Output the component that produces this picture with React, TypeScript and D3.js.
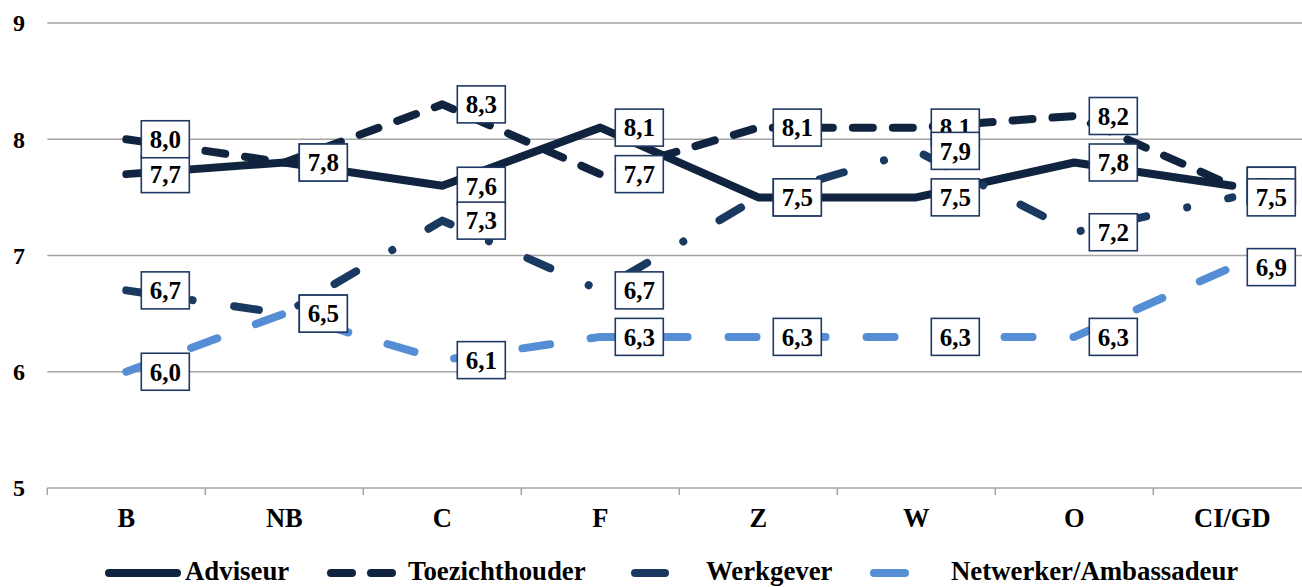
import React from "react";
import * as d3 from "d3";

const categories = ["B", "NB", "C", "F", "Z", "W", "O", "CI/GD"];
const adviseur = [7.7, 7.8, 7.6, 8.1, 7.5, 7.5, 7.8, 7.6];
const toezichthouder = [8.0, 7.8, 8.3, 7.7, 8.1, 8.1, 8.2, 7.6];
const werkgever = [6.7, 6.5, 7.3, 6.7, 7.5, 7.9, 7.2, 7.5];
const netwerker = [6.0, 6.5, 6.1, 6.3, 6.3, 6.3, 6.3, 6.9];
const yTicks = [5, 6, 7, 8, 9];
const seriesNames = ["Adviseur", "Toezichthouder", "Werkgever", "Netwerker/Ambassadeur"];

const W = 1302;
const H = 587;
const FONT = "'Liberation Serif', 'Times New Roman', serif";

const series = [
  { name: seriesNames[0], values: adviseur, color: "#10243f", dash: "none", legend: { x1: 109, x2: 177, dash: "none", textX: 185 } },
  { name: seriesNames[1], values: toezichthouder, color: "#10243f", dash: "20 20", legend: { x1: 331, x2: 392, dash: "21 19", textX: 408 } },
  { name: seriesNames[2], values: werkgever, color: "#1a3960", dash: "25 42 0.01 42", legend: { x1: 635, x2: 665, dash: "none", textX: 706 } },
  { name: seriesNames[3], values: netwerker, color: "#558ed5", dash: "28 41", legend: { x1: 874, x2: 905, dash: "none", textX: 951 } },
];

export default function App() {
  const x = d3.scaleBand<string>().domain(categories).range([47.3, 1311.3]).paddingInner(0).paddingOuter(0);
  const y = d3.scaleLinear().domain([5, 9]).range([488, 23]);
  const cx = (c: string) => (x(c) as number) + x.bandwidth() / 2;
  const line = d3
    .line<number>()
    .x((_, i) => cx(categories[i]))
    .y((v) => y(v));
  const fmt = (v: number) => v.toFixed(1).replace(".", ",");
  const boxW = 48;
  const boxH = 37;
  const tickXs = categories.map((c) => x(c) as number).concat([1311.3]);

  return (
    <svg width={W} height={H} style={{ position: "absolute", left: 0, top: 0, background: "#fff", fontFamily: FONT }}>
      {yTicks.map((t) => (
        <g key={t}>
          <line x1={47.3} x2={1311.3} y1={y(t)} y2={y(t)} stroke="#a3a3a3" strokeWidth={1.5} />
          <text x={19} y={y(t)} dy="0.35em" textAnchor="middle" fontSize={24} fontWeight="bold" fill="#000">
            {t}
          </text>
        </g>
      ))}
      {tickXs.map((tx, i) => (
        <line key={i} x1={tx} x2={tx} y1={y(5)} y2={y(5) + 7} stroke="#a3a3a3" strokeWidth={1.5} />
      ))}
      {categories.map((c) => (
        <text key={c} x={cx(c)} y={527} textAnchor="middle" fontSize={26.5} fontWeight="bold" fill="#000">
          {c}
        </text>
      ))}
      {series.map((s) => (
        <path
          key={s.name}
          d={line(s.values) as string}
          fill="none"
          stroke={s.color}
          strokeWidth={8}
          strokeLinecap="round"
          strokeLinejoin="round"
          strokeDasharray={s.dash}
        />
      ))}
      {series.map((s) =>
        s.values.map((v, i) => {
          const px = cx(categories[i]) + 15;
          const py = y(v);
          return (
            <g key={s.name + i}>
              <rect x={px} y={py - boxH / 2} width={boxW} height={boxH} fill="#fff" stroke="#1f3864" strokeWidth={1.6} />
              <text x={px + boxW / 2} y={py} dy="0.35em" textAnchor="middle" fontSize={25} fontWeight="bold" fill="#000">
                {fmt(v)}
              </text>
            </g>
          );
        })
      )}
      {series.map((s) => (
        <g key={"lg" + s.name}>
          <line
            x1={s.legend.x1}
            x2={s.legend.x2}
            y1={573}
            y2={573}
            stroke={s.color}
            strokeWidth={8}
            strokeLinecap="round"
            strokeDasharray={s.legend.dash}
          />
          <text x={s.legend.textX} y={580} fontSize={26.8} fontWeight="bold" fill="#000">
            {s.name}
          </text>
        </g>
      ))}
    </svg>
  );
}
